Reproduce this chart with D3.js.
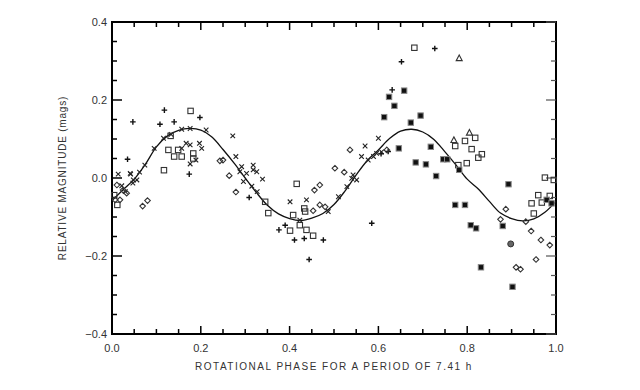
<!DOCTYPE html>
<html><head><meta charset="utf-8">
<script src="https://cdn.jsdelivr.net/npm/d3@7"></script>
<style>body{margin:0;background:#fff}svg{display:block}</style>
</head><body>
<svg id="c" width="640" height="390"></svg>
<script>
// ---- data ----
const xTicks = [0.0, 0.2, 0.4, 0.6, 0.8, 1.0];
const yTicks = [0.4, 0.2, 0.0, -0.2, -0.4];
const xTitle = "ROTATIONAL PHASE FOR A PERIOD OF 7.41 h";
const yTitle = "RELATIVE MAGNITUDE (mags)";

const fitCurve = [[0.00,-0.058],[0.025,-0.030],[0.05,-0.003],[0.075,0.035],[0.10,0.080],[0.125,0.108],[0.15,0.122],[0.175,0.127],[0.20,0.123],[0.225,0.105],[0.25,0.073],[0.275,0.038],[0.30,0.000],[0.325,-0.037],[0.35,-0.070],[0.375,-0.092],[0.40,-0.104],[0.425,-0.109],[0.45,-0.103],[0.475,-0.091],[0.50,-0.068],[0.525,-0.033],[0.55,0.008],[0.575,0.045],[0.60,0.072],[0.625,0.101],[0.65,0.120],[0.675,0.125],[0.70,0.118],[0.725,0.099],[0.75,0.067],[0.775,0.033],[0.80,-0.003],[0.825,-0.028],[0.85,-0.060],[0.875,-0.090],[0.90,-0.104],[0.925,-0.110],[0.95,-0.105],[0.975,-0.088],[1.00,-0.060]];

const plusPts = [[0.118,0.174],[0.047,0.144],[0.140,0.144],[0.198,0.155],[0.108,0.138],[0.035,0.048],[0.174,0.010],[0.309,-0.050],[0.390,-0.121],[0.376,-0.133],[0.411,-0.159],[0.433,-0.155],[0.476,-0.159],[0.444,-0.209],[0.585,-0.116],[0.727,0.332],[0.652,0.298],[0.631,0.226],[0.622,0.068],[0.606,0.062]];
const crossPts = [[0.167,0.089],[0.176,0.085],[0.157,0.076],[0.197,0.089],[0.202,0.076],[0.189,0.046],[0.176,0.036],[0.212,0.123],[0.272,0.108],[0.279,0.055],[0.042,0.010],[0.056,-0.005],[0.047,-0.013],[0.062,0.015],[0.074,0.033],[0.095,0.076],[0.116,0.102],[0.133,0.112],[0.157,0.125],[0.176,0.127],[0.014,0.010],[0.041,0.012],[0.048,-0.005],[0.022,-0.020],[0.030,-0.035],[0.288,0.016],[0.303,0.012],[0.318,0.021],[0.339,-0.003],[0.296,-0.009],[0.315,-0.021],[0.327,-0.035],[0.292,0.029],[0.326,0.016],[0.318,0.033],[0.401,-0.061],[0.438,-0.056],[0.423,-0.108],[0.487,-0.086],[0.510,-0.048],[0.529,-0.022],[0.540,-0.001],[0.551,-0.005],[0.543,0.008],[0.577,0.046],[0.589,0.055],[0.596,0.063],[0.607,0.067],[0.600,0.102],[0.570,0.082],[0.562,0.055]];
const squarePts = [[0.177,0.172],[0.117,0.020],[0.132,0.108],[0.127,0.072],[0.149,0.072],[0.140,0.055],[0.157,0.055],[0.183,0.063],[0.183,0.050],[0.005,-0.044],[0.012,-0.069],[0.416,-0.015],[0.345,-0.061],[0.352,-0.090],[0.433,-0.078],[0.435,-0.086],[0.408,-0.095],[0.423,-0.121],[0.401,-0.135],[0.438,-0.133],[0.453,-0.148],[0.681,0.334],[0.773,0.082],[0.795,0.095],[0.818,0.103],[0.810,0.074],[0.825,0.052],[0.833,0.061],[0.780,0.033],[0.799,0.038],[0.975,0.001],[0.995,-0.005],[0.960,-0.044],[0.945,-0.065],[0.968,-0.063],[0.986,-0.046],[0.950,-0.091]];
const filledPts = [[0.658,0.224],[0.624,0.208],[0.636,0.185],[0.613,0.156],[0.695,0.160],[0.673,0.142],[0.646,0.076],[0.718,0.080],[0.684,0.040],[0.707,0.035],[0.730,0.005],[0.746,0.048],[0.755,0.048],[0.782,0.021],[0.893,-0.016],[0.773,-0.069],[0.795,-0.069],[0.808,-0.121],[0.820,-0.129],[0.831,-0.229],[0.880,-0.123],[0.902,-0.279],[0.979,-0.056],[0.990,-0.065]];
const diamondPts = [[0.011,-0.018],[0.025,-0.031],[0.033,-0.039],[0.007,-0.056],[0.018,-0.056],[0.069,-0.072],[0.080,-0.058],[0.243,0.044],[0.250,0.046],[0.264,0.006],[0.279,-0.036],[0.456,-0.031],[0.468,-0.018],[0.453,-0.084],[0.468,-0.069],[0.480,-0.074],[0.536,0.072],[0.502,0.025],[0.523,0.015],[0.619,0.072],[0.887,-0.080],[0.875,-0.106],[0.910,-0.229],[0.920,-0.234],[0.932,-0.112],[0.944,-0.136],[0.966,-0.159],[0.986,-0.172],[0.955,-0.209]];
const circlePts = [[0.898,-0.169]];
const trianglePts = [[0.782,0.307],[0.770,0.097],[0.805,0.116]];

// ---- layout ----
const L = 112, R = 556, T = 22, B = 334;
const svg = d3.select("#c");
const x = d3.scaleLinear().domain([0, 1]).range([L, R]);
const y = d3.scaleLinear().domain([-0.4, 0.4]).range([B, T]);
const font = "'Liberation Sans', Arial, sans-serif";

// frame
svg.append("rect").attr("x", L).attr("y", T).attr("width", R - L).attr("height", B - T)
  .attr("fill", "none").attr("stroke", "#000").attr("stroke-width", 2);

const minorX = d3.range(0, 1.0001, 0.05);
const minorY = d3.range(-0.4, 0.4001, 0.05);
const isMajor = v => Math.abs(v / 0.2 - Math.round(v / 0.2)) < 1e-6;

// x ticks (inward, bottom and top)
const gx = svg.append("g");
minorX.forEach(v => {
  const len = isMajor(v) ? 8 : 5;
  gx.append("line").attr("x1", x(v)).attr("x2", x(v)).attr("y1", B).attr("y2", B - len).attr("stroke", "#000").attr("stroke-width", 1.5);
  gx.append("line").attr("x1", x(v)).attr("x2", x(v)).attr("y1", T).attr("y2", T + len).attr("stroke", "#000").attr("stroke-width", 1.5);
});
// y ticks (inward, left and right)
minorY.forEach(v => {
  const len = isMajor(v) ? 10 : 5;
  gx.append("line").attr("y1", y(v)).attr("y2", y(v)).attr("x1", L).attr("x2", L + len).attr("stroke", "#000").attr("stroke-width", 1.5);
  gx.append("line").attr("y1", y(v)).attr("y2", y(v)).attr("x1", R).attr("x2", R - len).attr("stroke", "#555").attr("stroke-width", 1.2);
});

// tick labels
svg.append("g").selectAll("text").data(xTicks).join("text")
  .attr("x", d => x(d)).attr("y", 352).attr("text-anchor", "middle")
  .attr("font-family", font).attr("font-size", 11).attr("fill", "#333")
  .text(d => d3.format(".1f")(d));
svg.append("g").selectAll("text").data(yTicks).join("text")
  .attr("x", 107).attr("y", d => y(d) + 4).attr("text-anchor", "end")
  .attr("font-family", font).attr("font-size", 11).attr("fill", "#333")
  .text(d => d3.format(".1f")(d).replace("-", "\u2212"));

// titles
svg.append("text").attr("x", (L + R) / 2).attr("y", 370).attr("text-anchor", "middle")
  .attr("font-family", font).attr("font-size", 10).attr("letter-spacing", 1.5).attr("fill", "#333").text(xTitle);
svg.append("text").attr("transform", `translate(66,${(T + B) / 2}) rotate(-90)`).attr("text-anchor", "middle")
  .attr("font-family", font).attr("font-size", 10).attr("letter-spacing", 0.8).attr("fill", "#333").text(yTitle);

// fit curve
svg.append("path").datum(fitCurve)
  .attr("d", d3.line().x(d => x(d[0])).y(d => y(d[1])).curve(d3.curveCatmullRom))
  .attr("fill", "none").attr("stroke", "#111").attr("stroke-width", 1.3);

// markers
const g = svg.append("g");
g.selectAll(".plus").data(plusPts).join("path").attr("class", "plus")
  .attr("transform", d => `translate(${x(d[0])},${y(d[1])})`)
  .attr("d", "M-2.8,0H2.8M0,-2.8V2.8").attr("stroke", "#111").attr("stroke-width", 1.4).attr("fill", "none");
g.selectAll(".cross").data(crossPts).join("path").attr("class", "cross")
  .attr("transform", d => `translate(${x(d[0])},${y(d[1])})`)
  .attr("d", "M-2.3,-2.3L2.3,2.3M-2.3,2.3L2.3,-2.3").attr("stroke", "#222").attr("stroke-width", 1.1).attr("fill", "none");
g.selectAll(".sq").data(squarePts).join("rect").attr("class", "sq")
  .attr("x", d => x(d[0]) - 2.7).attr("y", d => y(d[1]) - 2.7).attr("width", 5.4).attr("height", 5.4)
  .attr("fill", "none").attr("stroke", "#333").attr("stroke-width", 1.1);
g.selectAll(".fsq").data(filledPts).join("rect").attr("class", "fsq")
  .attr("x", d => x(d[0]) - 2.7).attr("y", d => y(d[1]) - 2.7).attr("width", 5.4).attr("height", 5.4)
  .attr("fill", "#111").attr("stroke", "#888").attr("stroke-width", 1);
g.selectAll(".dia").data(diamondPts).join("path").attr("class", "dia")
  .attr("transform", d => `translate(${x(d[0])},${y(d[1])})`)
  .attr("d", "M0,-2.8L2.8,0L0,2.8L-2.8,0Z").attr("stroke", "#333").attr("stroke-width", 1.1).attr("fill", "none");
g.selectAll(".cir").data(circlePts).join("circle").attr("class", "cir")
  .attr("cx", d => x(d[0])).attr("cy", d => y(d[1])).attr("r", 3)
  .attr("fill", "#666").attr("stroke", "#333").attr("stroke-width", 1);
g.selectAll(".tri").data(trianglePts).join("path").attr("class", "tri")
  .attr("transform", d => `translate(${x(d[0])},${y(d[1])})`)
  .attr("d", "M0,-3.3L3,2.4H-3Z").attr("stroke", "#333").attr("stroke-width", 1.1).attr("fill", "none");
</script>
</body></html>
